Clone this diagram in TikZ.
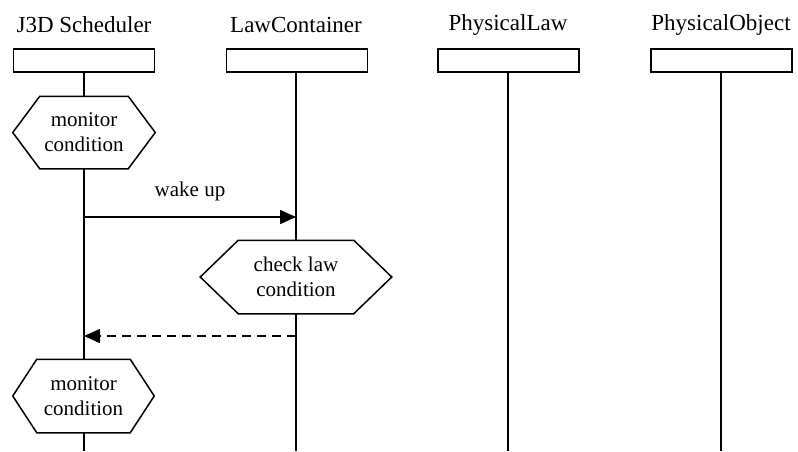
\documentclass[tikz,border=0pt]{standalone}
\usepackage{fontspec}
\setmainfont{Liberation Serif}
\usetikzlibrary{arrows.meta}
\begin{document}
\begin{tikzpicture}[x=1pt,y=-1pt,
  every path/.style={line width=1.5pt},
  title/.style={font=\fontsize{23}{27}\selectfont, inner sep=0pt},
  objbox/.style={draw, line width=1.5pt, minimum width=141pt, minimum height=23pt, inner sep=0pt},
  hexlabel/.style={font=\fontsize{21}{25}\selectfont, align=center, inner sep=0pt},
  msglabel/.style={font=\fontsize{21}{25}\selectfont, inner sep=0pt},
  lifeline/.style={line width=1.6pt},
  call/.style={line width=1.6pt, -{Triangle[length=16pt,width=14pt]}},
  reply/.style={line width=1.6pt, dash pattern=on 9pt off 6pt, -{Triangle[length=16pt,width=14pt]}}
]
\useasboundingbox (0,0) rectangle (798,451);

% hexagon outline around a named node
\newcommand{\hexoutline}[2]{%
  \draw[line width=1.5pt] (#1.north west) -- (#1.north east) -- ([xshift=#2]#1.east)
    -- (#1.south east) -- (#1.south west) -- ([xshift=-#2]#1.west) -- cycle;}

% object headers
\node[title] (t1) at (84,25) {J3D Scheduler};
\node[title] (t2) at (296,25) {LawContainer};
\node[title] (t3) at (508,25) {PhysicalLaw};
\node[title] (t4) at (721,25) {PhysicalObject};

\node[objbox] (b1) at (84,60.5) {};
\node[objbox] (b2) at (297,60.5) {};
\node[objbox] (b3) at (508.5,60.5) {};
\node[objbox] (b4) at (721.5,60.5) {};

% activities
\node[hexlabel, minimum width=87pt, minimum height=71pt] (h1) at (84,132.5) {monitor\\condition};
\hexoutline{h1}{27pt}
\node[hexlabel, minimum width=114pt, minimum height=72pt] (h2) at (296,277) {check law\\condition};
\hexoutline{h2}{38pt}
\node[hexlabel, minimum width=92pt, minimum height=72pt] (h3) at (83.5,396) {monitor\\condition};
\hexoutline{h3}{24pt}

% lifeline ends
\coordinate (e1) at (84,451);
\coordinate (e2) at (296,451);
\coordinate (e3) at (508,451);
\coordinate (e4) at (721,451);
\coordinate (l2) at (296,72);
\coordinate (l3) at (508,72);
\coordinate (l4) at (721,72);

% lifelines
\draw[lifeline] (h1.north -| e1) -- (b1.south -| e1);
\draw[lifeline] (h1.south -| e1) -- (h3.north -| e1);
\draw[lifeline] (h3.south -| e1) -- (e1);
\draw[lifeline] (l2) -- (h2.north);
\draw[lifeline] (h2.south) -- (e2);
\draw[lifeline] (l3) -- (e3);
\draw[lifeline] (l4) -- (e4);

% messages
\coordinate (w1) at (84,217);
\coordinate (w2) at (296,217);
\coordinate (r1) at (296,336);
\coordinate (r2) at (84,336);
\draw[call] (w1) -- (w2);
\node[msglabel] (wl) at (190,191) {wake up};
\draw[reply] (r1) -- (r2);
\end{tikzpicture}
\end{document}
